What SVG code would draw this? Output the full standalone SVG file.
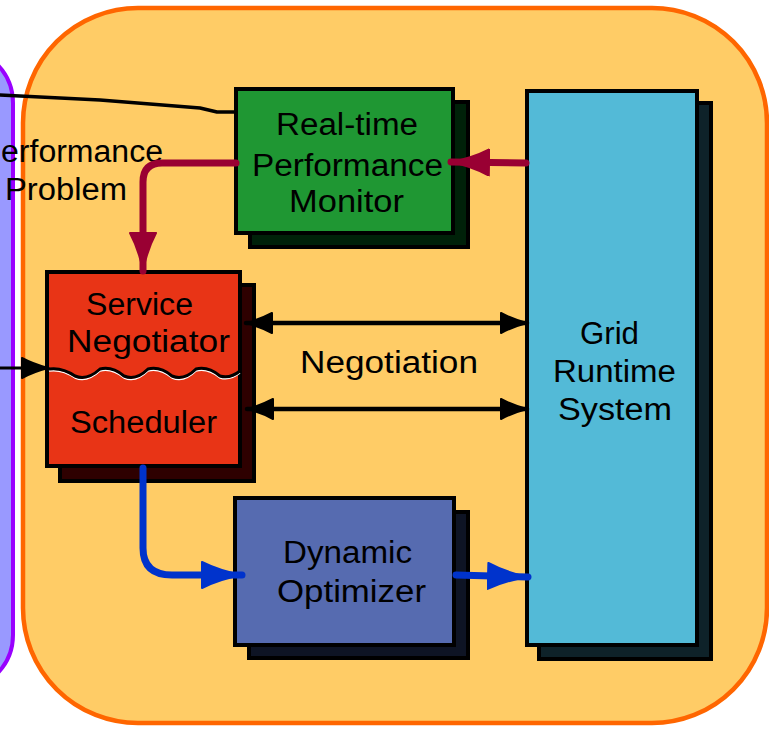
<svg xmlns="http://www.w3.org/2000/svg" width="769" height="729" viewBox="0 0 769 729">
<style>
text{font-family:"Liberation Sans",Arial,sans-serif;font-size:31px;fill:#000;}
.box{stroke:#000;stroke-width:4;}
.sh{stroke:#000;stroke-width:4;}
.ln{fill:none;stroke-linecap:round;stroke-linejoin:round;}
</style>
<defs>
<marker id="mMaroon" viewBox="0 0 40 28" refX="39" refY="14" markerWidth="40" markerHeight="28" markerUnits="userSpaceOnUse" orient="auto">
<path d="M1,1 L1,27 Q18,18 39,14 Q18,10 1,1 Z" fill="#990033" stroke="#990033" stroke-width="2" stroke-linejoin="round"/>
</marker>
<marker id="mBlack" viewBox="0 0 28 22" refX="27" refY="11" markerWidth="28" markerHeight="22" markerUnits="userSpaceOnUse" orient="auto-start-reverse">
<path d="M1,1 L1,21 Q12,15 27,11 Q12,7 1,1 Z" fill="#000" stroke="#000" stroke-width="2" stroke-linejoin="round"/>
</marker>
<marker id="mBlue" viewBox="0 0 42 28" refX="41" refY="14" markerWidth="42" markerHeight="28" markerUnits="userSpaceOnUse" orient="auto">
<path d="M1,1 L1,27 Q19,18 41,14 Q19,10 1,1 Z" fill="#0033CC" stroke="#0033CC" stroke-width="2" stroke-linejoin="round"/>
</marker>
</defs>
<rect width="769" height="729" fill="#fff"/>
<g id="left-region">
<rect x="-120" y="48" width="133" height="642" rx="55" ry="55" fill="#9999FF" stroke="#9900FF" stroke-width="4"/>
</g>
<g id="container">
<rect x="23" y="8" width="744" height="715" rx="115" ry="115" fill="#FFCC66" stroke="#FF6600" stroke-width="4.5"/>
</g>
<g id="label-performance-problem">
<text x="1" y="162" textLength="162" lengthAdjust="spacingAndGlyphs">erformance</text>
<text x="5" y="200" textLength="122" lengthAdjust="spacingAndGlyphs">Problem</text>
</g>
<g id="node-monitor">
<rect class="sh" x="250" y="102" width="218" height="145" fill="#002109"/>
<rect class="box" x="236" y="89" width="217" height="144" fill="#1F9733"/>
<text x="276" y="135" textLength="142" lengthAdjust="spacingAndGlyphs">Real-time</text>
<text x="252" y="176" textLength="191" lengthAdjust="spacingAndGlyphs">Performance</text>
<text x="289" y="212" textLength="115" lengthAdjust="spacingAndGlyphs">Monitor</text>
</g>
<g id="node-negotiator">
<rect class="sh" x="60" y="285" width="194" height="196" fill="#2E0000"/>
<rect class="box" x="47" y="272" width="193" height="194" fill="#E83416"/>
<path d="M49,369 Q62,367 75,376 Q87,381 100,369 Q112,366 124,376 Q136,381 148,369 Q160,366 172,376 Q184,381 196,369 Q208,366 220,376 Q230,379 240,371" fill="none" stroke="#fff" stroke-width="1.5" transform="translate(0,2)"/>
<path d="M49,369 Q62,367 75,376 Q87,381 100,369 Q112,366 124,376 Q136,381 148,369 Q160,366 172,376 Q184,381 196,369 Q208,366 220,376 Q230,379 240,371" fill="none" stroke="#000" stroke-width="3"/>
<text x="86" y="315" textLength="107" lengthAdjust="spacingAndGlyphs">Service</text>
<text x="67" y="352" textLength="163" lengthAdjust="spacingAndGlyphs">Negotiator</text>
<text x="70" y="433" textLength="147" lengthAdjust="spacingAndGlyphs">Scheduler</text>
</g>
<g id="node-optimizer">
<rect class="sh" x="249" y="512" width="219" height="146" fill="#0E1424"/>
<rect class="box" x="235" y="498" width="219" height="147" fill="#566BB0"/>
<text x="283" y="563" textLength="129" lengthAdjust="spacingAndGlyphs">Dynamic</text>
<text x="277" y="602" textLength="149" lengthAdjust="spacingAndGlyphs">Optimizer</text>
</g>
<g id="node-grid">
<rect class="sh" x="539" y="103" width="172" height="556" fill="#0E2229"/>
<rect class="box" x="527" y="91" width="170" height="554" fill="#53BAD7"/>
<text x="580" y="344" textLength="59" lengthAdjust="spacingAndGlyphs">Grid</text>
<text x="553" y="382" textLength="123" lengthAdjust="spacingAndGlyphs">Runtime</text>
<text x="558" y="420" textLength="114" lengthAdjust="spacingAndGlyphs">System</text>
</g>
<g id="connectors">
<path class="ln" d="M-2,95 L100,100 L200,108 L217,112 L236,112" stroke="#000" stroke-width="3.5"/>
<path class="ln" d="M236,163 H162 Q143,163 143,182 V271" stroke="#990033" stroke-width="7" marker-end="url(#mMaroon)"/>
<path class="ln" d="M526,163 L451,162" stroke="#990033" stroke-width="7" marker-end="url(#mMaroon)"/>
<path class="ln" d="M246,323 L527,323" stroke="#000" stroke-width="4.5" marker-start="url(#mBlack)" marker-end="url(#mBlack)"/>
<path class="ln" d="M247,409 L527,409" stroke="#000" stroke-width="4.5" marker-start="url(#mBlack)" marker-end="url(#mBlack)"/>
<path class="ln" d="M-2,368 L48,368" stroke="#000" stroke-width="3" marker-end="url(#mBlack)"/>
<path class="ln" d="M143,468 V548 Q143,575 172,575 L242,575" stroke="#0033CC" stroke-width="7" marker-end="url(#mBlue)"/>
<path class="ln" d="M456,575 L528,577" stroke="#0033CC" stroke-width="7" marker-end="url(#mBlue)"/>
</g>
<text x="300" y="373" textLength="178" lengthAdjust="spacingAndGlyphs" id="label-negotiation">Negotiation</text>
</svg>
